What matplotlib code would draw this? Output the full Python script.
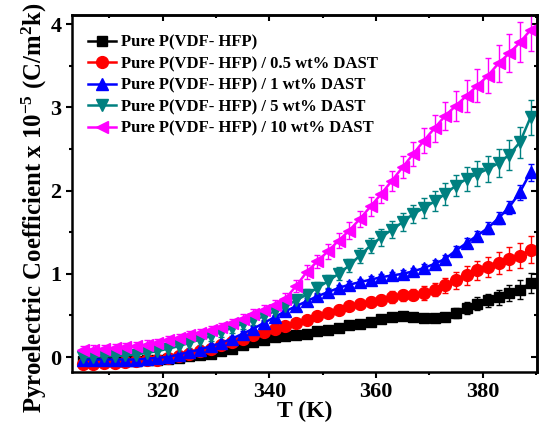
import matplotlib
matplotlib.use('Agg')
import matplotlib.pyplot as plt
import numpy as np

# temperature (K), one reading every 2 K
T = np.arange(305, 390, 2)

pure = [-0.05, -0.05, -0.05, -0.05, -0.05, -0.05, -0.04, -0.03, -0.02, -0.01,
        0.01, 0.02, 0.04, 0.07, 0.10, 0.14, 0.18, 0.21, 0.24, 0.25,
        0.26, 0.28, 0.31, 0.33, 0.35, 0.38, 0.40, 0.42, 0.46, 0.48,
        0.49, 0.48, 0.47, 0.47, 0.48, 0.53, 0.59, 0.64, 0.68, 0.72,
        0.77, 0.81, 0.89]
pure_err = [0.02, 0.02, 0.02, 0.02, 0.02, 0.02, 0.02, 0.02, 0.02, 0.02,
            0.02, 0.02, 0.02, 0.02, 0.02, 0.02, 0.02, 0.02, 0.03, 0.03,
            0.03, 0.03, 0.03, 0.03, 0.03, 0.04, 0.04, 0.04, 0.04, 0.04,
            0.05, 0.05, 0.05, 0.05, 0.05, 0.06, 0.07, 0.08, 0.08, 0.09,
            0.10, 0.11, 0.12]

dast05 = [-0.08, -0.08, -0.07, -0.07, -0.06, -0.05, -0.04, -0.03, -0.01, 0.01,
          0.04, 0.07, 0.10, 0.14, 0.18, 0.22, 0.26, 0.30, 0.34, 0.37,
          0.41, 0.45, 0.49, 0.53, 0.57, 0.61, 0.64, 0.66, 0.69, 0.72,
          0.74, 0.75, 0.77, 0.81, 0.86, 0.92, 0.98, 1.04, 1.08, 1.13,
          1.18, 1.22, 1.29]
dast05_err = [0.03, 0.03, 0.03, 0.03, 0.03, 0.03, 0.03, 0.03, 0.03, 0.03,
              0.03, 0.03, 0.03, 0.03, 0.03, 0.03, 0.03, 0.04, 0.04, 0.04,
              0.04, 0.04, 0.05, 0.05, 0.05, 0.05, 0.06, 0.06, 0.06, 0.07,
              0.07, 0.07, 0.08, 0.08, 0.09, 0.10, 0.11, 0.12, 0.12, 0.13,
              0.14, 0.15, 0.16]

dast1 = [-0.03, -0.03, -0.03, -0.03, -0.03, -0.03, -0.02, -0.01, 0.00, 0.03,
         0.06, 0.09, 0.13, 0.17, 0.22, 0.28, 0.34, 0.41, 0.48, 0.55,
         0.61, 0.67, 0.73, 0.78, 0.83, 0.87, 0.90, 0.93, 0.96, 0.98,
         1.00, 1.03, 1.07, 1.12, 1.18, 1.28, 1.37, 1.46, 1.55, 1.67,
         1.80, 1.98, 2.22]
dast1_err = [0.02, 0.02, 0.02, 0.02, 0.02, 0.02, 0.02, 0.02, 0.02, 0.02,
             0.02, 0.02, 0.03, 0.03, 0.03, 0.03, 0.03, 0.03, 0.03, 0.03,
             0.04, 0.04, 0.04, 0.04, 0.04, 0.04, 0.04, 0.04, 0.04, 0.04,
             0.04, 0.04, 0.05, 0.05, 0.05, 0.05, 0.06, 0.06, 0.07, 0.07,
             0.08, 0.09, 0.10]

dast5 = [0.00, 0.00, 0.01, 0.01, 0.02, 0.03, 0.05, 0.07, 0.10, 0.13,
         0.17, 0.21, 0.25, 0.30, 0.35, 0.40, 0.44, 0.49, 0.55, 0.61,
         0.68, 0.75, 0.83, 0.91, 1.00, 1.10, 1.22, 1.34, 1.44, 1.53,
         1.62, 1.72, 1.79, 1.87, 1.96, 2.06, 2.14, 2.20, 2.26, 2.33,
         2.43, 2.58, 2.88]
dast5_err = [0.06, 0.06, 0.06, 0.06, 0.06, 0.06, 0.06, 0.06, 0.06, 0.06,
             0.06, 0.06, 0.06, 0.06, 0.06, 0.06, 0.06, 0.06, 0.06, 0.07,
             0.07, 0.07, 0.07, 0.08, 0.08, 0.08, 0.09, 0.09, 0.10, 0.10,
             0.11, 0.11, 0.12, 0.12, 0.13, 0.13, 0.14, 0.15, 0.16, 0.17,
             0.18, 0.19, 0.21]

dast10 = [0.08, 0.09, 0.10, 0.11, 0.12, 0.13, 0.15, 0.17, 0.20, 0.23,
          0.26, 0.29, 0.32, 0.36, 0.41, 0.46, 0.52, 0.57, 0.63, 0.70,
          0.85, 1.02, 1.15, 1.27, 1.40, 1.52, 1.66, 1.81, 1.96, 2.12,
          2.28, 2.44, 2.60, 2.75, 2.90, 3.02, 3.14, 3.26, 3.38, 3.53,
          3.65, 3.78, 3.93]
dast10_err = [0.05, 0.05, 0.05, 0.05, 0.05, 0.05, 0.05, 0.05, 0.05, 0.05,
              0.05, 0.05, 0.05, 0.05, 0.05, 0.06, 0.06, 0.06, 0.06, 0.07,
              0.07, 0.08, 0.08, 0.09, 0.09, 0.10, 0.10, 0.11, 0.11, 0.12,
              0.13, 0.14, 0.15, 0.16, 0.17, 0.18, 0.19, 0.20, 0.21, 0.22,
              0.23, 0.24, 0.25]

labels = ['Pure P(VDF- HFP)',
          'Pure P(VDF- HFP) / 0.5 wt% DAST',
          'Pure P(VDF- HFP) / 1 wt% DAST',
          'Pure P(VDF- HFP) / 5 wt% DAST',
          'Pure P(VDF- HFP) / 10 wt% DAST']
colors = ['black', 'red', 'blue', '#008080', 'magenta']
markers = ['s', 'o', '^', 'v', '<']
sizes = [7, 8.5, 9, 9, 9]

plt.rcParams['font.family'] = 'Liberation Serif'
plt.rcParams['font.weight'] = 'bold'
plt.rcParams['mathtext.fontset'] = 'custom'
plt.rcParams['mathtext.rm'] = 'Liberation Serif:bold'
plt.rcParams['mathtext.it'] = 'Liberation Serif:bold'
plt.rcParams['mathtext.bf'] = 'Liberation Serif:bold'

fig = plt.figure(figsize=(5.4, 4.24), dpi=100)
ax = fig.add_axes([0.1333, 0.1226, 0.861, 0.842])

series = [(pure, pure_err), (dast05, dast05_err), (dast1, dast1_err),
          (dast5, dast5_err), (dast10, dast10_err)]
for (y, e), lab, c, m, s in zip(series, labels, colors, markers, sizes):
    ax.errorbar(T, y, yerr=e, color=c, ecolor=c, elinewidth=1, capsize=2.5,
                capthick=1, marker=m, markersize=s, linewidth=1.8,
                label=lab, clip_on=True)

ax.set_xlim(303, 390.2)
ax.set_ylim(-0.18, 4.11)
ax.set_xticks([320, 340, 360, 380])
ax.set_xticks(np.arange(310, 391, 10), minor=True)
ax.set_yticks([0, 1, 2, 3, 4])
ax.set_yticks(np.arange(0, 4.1, 0.5), minor=True)

for sp in ax.spines.values():
    sp.set_linewidth(1.8)

ax.tick_params(which='both', direction='out', width=1.5, labelsize=16,
               top=False, right=False)
ax.tick_params(which='major', length=4)
ax.tick_params(which='minor', length=2.5)

# mirrored ticks on the top and right sides point inward
top = ax.secondary_xaxis('top')
top.set_xticks([320, 340, 360, 380])
top.set_xticks(np.arange(310, 391, 10), minor=True)
top.tick_params(which='both', direction='in', width=1.5, labeltop=False)
top.tick_params(which='major', length=4)
top.tick_params(which='minor', length=2.5)
top.spines['top'].set_linewidth(1.8)
right = ax.secondary_yaxis('right')
right.set_yticks([0, 1, 2, 3, 4])
right.set_yticks(np.arange(0, 4.1, 0.5), minor=True)
right.tick_params(which='both', direction='in', width=1.5, labelright=False)
right.tick_params(which='major', length=4)
right.tick_params(which='minor', length=2.5)
right.spines['right'].set_linewidth(1.8)

ax.set_xlabel('T (K)', fontsize=17, fontweight='bold', labelpad=-1)
ax.set_ylabel(r'Pyroelectric Coefficient x 10$^{-5}$ (C/m$^{2}$k)',
              fontsize=17.8, fontweight='bold')
ax.yaxis.set_label_coords(-0.05, 0.46)

handles, labs = ax.get_legend_handles_labels()
handles = [h[0] for h in handles]
ax.legend(handles, labs, loc='upper left', bbox_to_anchor=(0.035, 0.945),
          frameon=False, fontsize=12, handlelength=1.65, handletextpad=0.3,
          labelspacing=0.33, borderaxespad=0, borderpad=0)

fig.savefig('out.png', dpi=100)
